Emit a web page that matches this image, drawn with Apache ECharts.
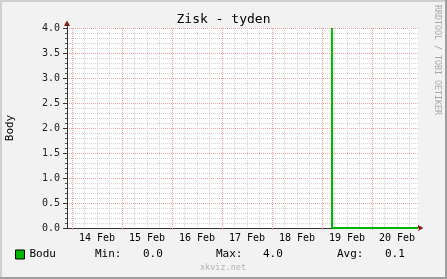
<!DOCTYPE html>
<html><head><meta charset="utf-8">
<script src="https://cdn.jsdelivr.net/npm/echarts@6/dist/echarts.min.js"></script>
<style>html,body{margin:0;padding:0;background:#f2f2f2}#c{width:447px;height:279px}</style>
</head><body><div id="c"></div>
<script>
// ---- data ----
const chartTitle = 'Zisk - tyden';
const yAxisName = 'Body';
const seriesName = 'Bodu';
const sampleTimes = ['2013-02-19T04:45', '2013-02-19T04:50', '2013-02-20T22:05'];
const sampleValues = [4.0, 0.0, 0.0];
const xStart = '2013-02-13T21:36';
const xEnd = '2013-02-20T22:05';
const firstDay = '2013-02-14T00:00';
const dayLabels = ['14 Feb', '15 Feb', '16 Feb', '17 Feb', '18 Feb', '19 Feb', '20 Feb'];
const yTickLabels = ['0.0', '0.5', '1.0', '1.5', '2.0', '2.5', '3.0', '3.5', '4.0'];
const statNames = ['Min:', 'Max:', 'Avg:'];
const statValues = ['0.0', '4.0', '0.1'];
const creditText = 'xkviz.net';
const sideText = 'RRDTOOL / TOBI OETIKER';

// ---- build ----
const ms = s => new Date(s).getTime();
const H = 3600 * 1000;
const MONO = 'DejaVu Sans Mono';
const seriesData = sampleTimes.map((t, i) => [ms(t), sampleValues[i]]);
const GREEN = '#00b400';
const MAJOR = '#f0a0a0';
const MINOR = '#d2d2d2';
const hidden = { axisLine: { show: false }, axisTick: { show: false }, axisLabel: { show: false }, splitLine: { show: false } };

const statGraphics = [];
const statNameX = [95, 216, 337];
const statValX = [143, 263, 385];
statNames.forEach((n, i) => {
  statGraphics.push({ type: 'text', x: statNameX[i], y: 254, style: { text: n, font: '11px "' + MONO + '"', fill: '#000', align: 'left', verticalAlign: 'middle' } });
  statGraphics.push({ type: 'text', x: statValX[i], y: 254, style: { text: statValues[i], font: '11px "' + MONO + '"', fill: '#000', align: 'left', verticalAlign: 'middle' } });
});

const chart = echarts.init(document.getElementById('c'), null, { renderer: 'canvas' });
chart.setOption({
  animation: false,
  backgroundColor: '#f2f2f2',
  title: {
    text: chartTitle, left: 'center', top: 13, padding: 0,
    textStyle: { fontFamily: MONO, fontSize: 13, fontWeight: 'normal', color: '#000' }
  },
  legend: {
    data: [{ name: seriesName, icon: 'rect' }],
    left: 15, top: 249, padding: 0, itemWidth: 9, itemHeight: 9,
    itemStyle: { borderColor: '#000', borderWidth: 1 },
    textStyle: { fontFamily: MONO, fontSize: 11, color: '#000' }
  },
  grid: [
    { left: 67, right: 29, top: 28, bottom: 51, show: true, backgroundColor: '#ffffff', borderWidth: 0, containLabel: false, outerBoundsMode: 'none' },
    { left: 72, right: 29, top: 28, bottom: 51, containLabel: false, outerBoundsMode: 'none' },
    { left: 72, width: 350, top: 28, bottom: 51, containLabel: false, outerBoundsMode: 'none' }
  ],
  xAxis: [
    { type: 'time', gridIndex: 0, min: ms(xStart), max: ms(xEnd),
      axisLine: { show: true, lineStyle: { color: '#333', width: 1 } },
      axisTick: { show: false }, axisLabel: { show: false }, splitLine: { show: false } },
    { type: 'value', gridIndex: 1, position: 'top', min: ms(firstDay), max: ms(xEnd), interval: 6 * H,
      axisLine: { show: false }, axisTick: { show: false }, axisLabel: { show: false },
      splitLine: { show: true, showMinLine: false, showMaxLine: false, lineStyle: { color: MINOR, type: [1, 1], width: 1 } } },
    { type: 'value', gridIndex: 1, position: 'bottom', min: ms(firstDay), max: ms(xEnd), interval: 24 * H,
      axisLine: { show: false }, axisLabel: { show: false },
      axisTick: { show: true, length: 2, lineStyle: { color: MAJOR } },
      splitLine: { show: true, showMinLine: true, showMaxLine: false, lineStyle: { color: MAJOR, type: [1, 1], width: 1 } } },
    { type: 'category', gridIndex: 2, data: dayLabels, boundaryGap: true,
      axisLine: { show: false }, axisTick: { show: false }, splitLine: { show: false },
      axisLabel: { show: true, interval: 0, margin: 5, fontFamily: MONO, fontSize: 10, color: '#000' } }
  ],
  yAxis: [
    { type: 'value', gridIndex: 0, min: 0, max: 4, interval: 0.5,
      name: yAxisName, nameLocation: 'middle', nameGap: 51, nameRotate: 90,
      nameTextStyle: { fontFamily: MONO, fontSize: 11, color: '#000' },
      axisLine: { show: true, lineStyle: { color: '#333', width: 1 } },
      axisTick: { show: true, length: 4, lineStyle: { color: '#333' } },
      minorTick: { show: true, splitNumber: 5, length: 2, lineStyle: { color: '#555' } },
      axisLabel: { show: true, margin: 7, fontFamily: MONO, fontSize: 10, color: '#222',
        formatter: (v, i) => yTickLabels[i] },
      splitLine: { show: true, showMinLine: false, showMaxLine: true, lineStyle: { color: MAJOR, type: [1, 1], width: 1 } },
      minorSplitLine: { show: true, lineStyle: { color: MINOR, type: [1, 1], width: 1 } } },
    Object.assign({ type: 'value', gridIndex: 1, min: 0, max: 4 }, hidden),
    Object.assign({ type: 'value', gridIndex: 2, min: 0, max: 4 }, hidden)
  ],
  series: [{
    name: seriesName, type: 'line', xAxisIndex: 0, yAxisIndex: 0,
    data: seriesData, showSymbol: false, symbol: 'none',
    color: GREEN, itemStyle: { color: GREEN },
    lineStyle: { color: GREEN, width: 2 }
  }],
  graphic: [
    { type: 'rect', shape: { x: 0, y: 0, width: 447, height: 2 }, style: { fill: '#cfcfcf' }, silent: true },
    { type: 'rect', shape: { x: 0, y: 0, width: 2, height: 279 }, style: { fill: '#cfcfcf' }, silent: true },
    { type: 'rect', shape: { x: 445, y: 0, width: 2, height: 279 }, style: { fill: '#9e9e9e' }, silent: true },
    { type: 'rect', shape: { x: 0, y: 277, width: 447, height: 2 }, style: { fill: '#9e9e9e' }, silent: true },
    { type: 'polygon', shape: { points: [[64, 26], [70, 26], [67, 20.5]] }, style: { fill: '#7f1a1a' }, silent: true },
    { type: 'line', shape: { x1: 67.5, y1: 25, x2: 67.5, y2: 29 }, style: { stroke: '#333', lineWidth: 1 }, silent: true },
    { type: 'polygon', shape: { points: [[418, 225], [418, 231], [423.5, 228]] }, style: { fill: '#7f1a1a' }, silent: true },
    ...statGraphics,
    { type: 'text', x: 223, y: 268, style: { text: creditText, font: '8.5px "' + MONO + '"', fill: '#b4b4b4', align: 'center', verticalAlign: 'middle' }, silent: true },
    { type: 'text', x: 437.5, y: 5, rotation: -Math.PI / 2, style: { text: sideText, font: '8.3px "' + MONO + '"', fill: '#a8a8a8', align: 'left', verticalAlign: 'middle' }, silent: true }
  ]
});
</script>
</body></html>
